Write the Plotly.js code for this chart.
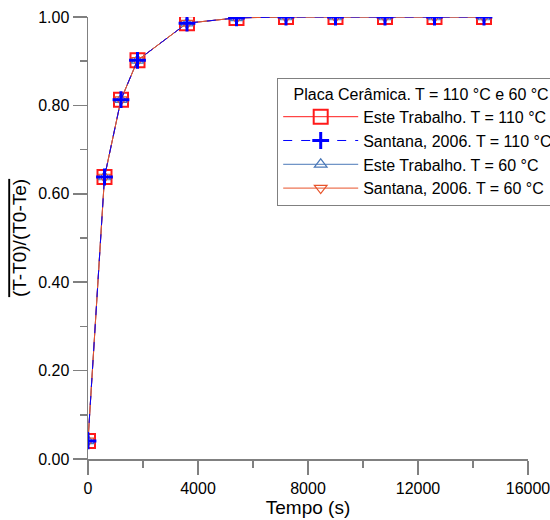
<!DOCTYPE html>
<html>
<head>
<meta charset="utf-8">
<script src="https://cdn.plot.ly/plotly-3.0.1.min.js"></script>
<style>html,body{margin:0;padding:0;background:#fff;}#chart{width:550px;height:520px;}</style>
</head>
<body>
<div id="chart"></div>
<script>
var tempo = [0, 600, 1200, 1800, 3600, 5400, 7200, 9000, 10800, 12600, 14400];
var este110 = [0.041, 0.638, 0.813, 0.902, 0.986, 0.998, 1.0, 1.0, 1.0, 1.0, 1.0];
var santana110 = [0.041, 0.638, 0.813, 0.902, 0.986, 0.998, 1.0, 1.0, 1.0, 1.0, 1.0];
var este60 = [0.041, 0.638, 0.813, 0.902, 0.986, 0.998, 1.0, 1.0, 1.0, 1.0, 1.0];
var santana60 = [0.041, 0.638, 0.813, 0.902, 0.986, 0.998, 1.0, 1.0, 1.0, 1.0, 1.0];
var names = ['Este Trabalho. T = 110 °C', 'Santana, 2006. T = 110 °C', 'Este Trabalho. T = 60 °C', 'Santana, 2006. T = 60 °C'];
var legendTitle = '\u00a0\u00a0\u00a0Placa Cerâmica. T = 110 °C e 60 °C';
var xTicks = [0, 4000, 8000, 12000, 16000];
var xTickText = ['0', '4000', '8000', '12000', '16000'];
var yTicks = [0, 0.2, 0.4, 0.6, 0.8, 1.0];

var traces = [
  {x: tempo, y: este110, name: names[0], legendrank: 1, mode: 'lines+markers',
   line: {color: '#ff1a1a', width: 1},
   marker: {symbol: 'square-open', size: 14, color: '#ff1a1a', line: {width: 2, color: '#ff1a1a'}}},
  {x: tempo, y: este60, name: names[2], legendrank: 3, mode: 'lines+markers',
   line: {color: '#4a78b8', width: 1},
   marker: {symbol: 'triangle-up-open', size: 11, color: '#4a78b8', line: {width: 1.2, color: '#4a78b8'}}},
  {x: tempo, y: santana60, name: names[3], legendrank: 4, mode: 'lines+markers',
   line: {color: '#e8532a', width: 1},
   marker: {symbol: 'triangle-down-open', size: 11, color: '#e8532a', line: {width: 1.2, color: '#e8532a'}}},
  {x: tempo, y: santana110, name: names[1], legendrank: 2, mode: 'lines+markers',
   line: {color: '#0000ff', width: 1, dash: 'dash'},
   marker: {symbol: 'cross-thin', size: 12, color: '#0000ff', line: {width: 3, color: '#0000ff'}}}
];

var layout = {
  width: 550, height: 520,
  margin: {l: 88, r: 22, t: 17, b: 61, autoexpand: false},
  paper_bgcolor: '#fff', plot_bgcolor: '#fff',
  font: {family: '"Liberation Sans", Arial, sans-serif', size: 16, color: '#000'},
  showlegend: true,
  legend: {
    x: 0.43, y: 0.862, xanchor: 'left', yanchor: 'top',
    bgcolor: '#fff', bordercolor: '#808080', borderwidth: 1,
    font: {size: 16},
    title: {text: legendTitle, font: {size: 16}},
    traceorder: 'normal', itemwidth: 75, tracegroupgap: 0
  },
  xaxis: {
    range: [0, 16000], tickvals: xTicks, ticktext: xTickText, automargin: false,
    ticklabeloverflow: 'allow',
    ticks: 'outside', ticklen: 14, tickcolor: '#808080', tickwidth: 1.5,
    minor: {dtick: 2000, ticks: 'outside', ticklen: 7, tickcolor: '#808080', tickwidth: 1.5},
    showline: true, linecolor: '#808080', linewidth: 1.5,
    showgrid: false, zeroline: false,
    title: {text: 'Tempo (s)', standoff: 2}
  },
  yaxis: {
    range: [0, 1], tickvals: yTicks, tickformat: '.2f', automargin: false,
    ticks: 'outside', ticklen: 14, tickcolor: '#808080', tickwidth: 1.5,
    minor: {dtick: 0.1, ticks: 'outside', ticklen: 7, tickcolor: '#808080', tickwidth: 1.5},
    showline: true, linecolor: '#808080', linewidth: 1.5,
    showgrid: false, zeroline: false,
    title: {text: '<span style="text-decoration:overline">(T-T0)/(T0-Te)</span>', standoff: 6}
  }
};

Plotly.newPlot('chart', traces, layout, {displayModeBar: false, staticPlot: true});
</script>
</body>
</html>
